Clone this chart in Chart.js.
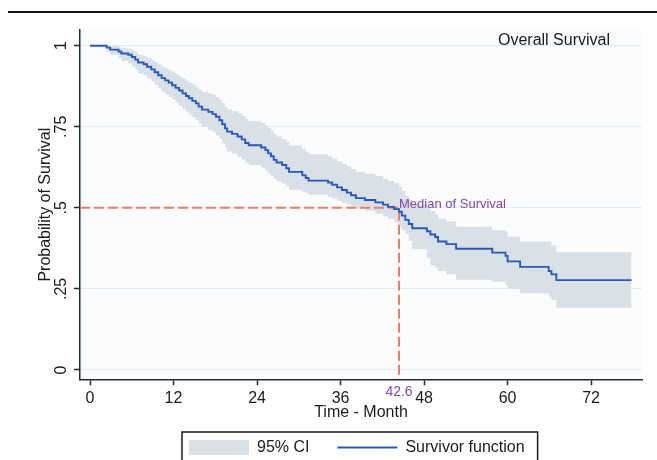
<!DOCTYPE html>
<html>
<head>
<meta charset="utf-8">
<script src="https://cdn.jsdelivr.net/npm/chart.js@4.4.1/dist/chart.umd.min.js"></script>
<style>
html,body{margin:0;padding:0;background:#fff;}
#wrap{position:relative;width:657px;height:460px;overflow:hidden;background:#fff;}
#rule{position:absolute;left:8px;top:11px;width:649px;height:2px;background:#151515;}
canvas{position:absolute;left:0;top:0;}
</style>
</head>
<body>
<div id="wrap"><canvas id="c" width="657" height="460"></canvas><div id="rule"></div></div>
<script>
// ---- data ----
const months = [0,2.4,2.9,4.1,4.5,5.5,6.0,6.5,6.9,7.7,8.2,8.8,9.3,9.8,10.3,10.8,11.3,11.8,12.3,12.8,13.3,13.8,14.2,14.7,15.2,15.6,16.1,17.0,17.6,18.1,18.6,19.0,19.4,19.7,20.4,21.2,21.8,22.3,22.8,24.6,25.2,25.6,26.0,26.4,26.8,27.6,28.2,28.6,30.5,31.0,31.4,34.2,34.8,35.5,36.2,36.9,37.5,38.2,39.5,41.0,42.1,42.8,43.7,44.4,44.8,45.3,45.8,46.3,48.4,48.9,49.6,50.0,51.2,52.6,57.8,59.7,60.0,61.8,65.9,66.3,67.0,77.8];
const survival = [1,.994,.988,.982,.976,.972,.965,.957,.948,.943,
  .935,.927,.918,.909,.900,.893,.886,.878,.870,.862,
  .853,.845,.838,.830,.822,.812,.803,.796,.789,.781,
  .770,.758,.745,.735,.728,.720,.711,.700,.693,.686,
  .678,.668,.659,.648,.640,.632,.622,.611,.600,.592,
  .584,.578,.571,.563,.555,.547,.539,.530,.524,.517,
  .510,.503,.496,.488,.476,.463,.450,.437,.428,.418,
  .410,.396,.388,.374,.362,.352,.335,.318,.305,.295,
  .277,.277];
const ciUpper = [1,1,1,.995,.992,.989,.985,.979,.972,.968,
  .962,.956,.949,.942,.935,.930,.924,.918,.911,.905,
  .898,.892,.886,.880,.873,.865,.858,.853,.848,.842,
  .833,.823,.812,.804,.799,.792,.784,.774,.768,.762,
  .755,.746,.738,.728,.720,.712,.703,.692,.681,.673,
  .665,.659,.652,.644,.636,.628,.620,.611,.605,.598,
  .590,.583,.576,.566,.553,.538,.524,.510,.500,.490,
  .481,.466,.458,.442,.431,.427,.411,.396,.396,.385,
  .363,.363];
const ciLower = [1,.982,.972,.962,.953,.946,.936,.926,.915,.909,
  .899,.890,.879,.869,.858,.850,.842,.833,.824,.815,
  .805,.796,.788,.779,.770,.759,.749,.741,.733,.724,
  .712,.699,.685,.674,.667,.658,.649,.640,.632,.624,
  .616,.607,.598,.589,.582,.575,.567,.556,.550,.545,
  .540,.534,.528,.522,.516,.510,.504,.497,.491,.482,
  .474,.466,.455,.443,.432,.420,.398,.372,.345,.322,
  .315,.305,.295,.278,.272,.262,.250,.237,.226,.216,
  .192,.192];
const xTickValues = [0,12,24,36,48,60,72];
const xTickLabels = ['0','12','24','36','48','60','72'];
const yTickValues = [0,0.25,0.5,0.75,1];
const yTickLabels = ['0','.25','.5','.75','1'];
const medianTime = 44.4;      // where the median marker sits in the picture
const medianLabel = '42.6';   // label printed on the axis
const medianSurvival = 0.5;
const medianText = 'Median of Survival';
const plotTitle = 'Overall Survival';
const ciLabel = '95% CI';
const survLabel = 'Survivor function';
const xTitle = 'Time - Month';
const yTitle = 'Probability of Survival';

// ---- styling ----
const FONT = "'Liberation Sans', Arial, sans-serif";
const DARK = '#1b1b1b';
const AXIS = '#1e2b33';
const PURPLE = '#8048a8';
const BLUE = '#2a58b4';
const BAND = '#d9e0e8';
const DASH = '#ec7f62';
const GRID = '#e3ecf3';
const xAxisMin = -1.437, xAxisMax = 79.31, yAxisMin = -0.0287, yAxisMax = 1.0484;
const legendShift = 17.8;

const toPts = ys => months.map((m, i) => ({x: m, y: ys[i]}));
const medianPath = [
  {x: xAxisMin, y: medianSurvival},
  {x: medianTime, y: medianSurvival},
  {x: medianTime, y: yAxisMin}
];
const isMedianTick = c => c && c.tick && Math.abs(c.tick.value - medianTime) < 1e-9;
const labelFor = (vals, labs, v) => {
  const i = vals.findIndex(t => Math.abs(t - v) < 1e-9);
  return i >= 0 ? labs[i] : '';
};

const bgPlugin = {
  id: 'bg',
  beforeDraw(chart) {
    const {ctx, chartArea: a} = chart;
    ctx.save();
    ctx.fillStyle = '#fbfcfe';
    ctx.fillRect(a.left, a.top, a.right - a.left, a.bottom - a.top);
    ctx.restore();
  }
};

const textPlugin = {
  id: 'texts',
  afterDatasetsDraw(chart) {
    const {ctx, chartArea, scales: {x, y}} = chart;
    ctx.save();
    ctx.font = '13px ' + FONT;
    ctx.fillStyle = PURPLE;
    ctx.textAlign = 'left';
    ctx.textBaseline = 'alphabetic';
    ctx.fillText(medianText, x.getPixelForValue(medianTime), y.getPixelForValue(medianSurvival));
    ctx.font = '16px ' + FONT;
    ctx.fillStyle = DARK;
    ctx.textAlign = 'right';
    ctx.textBaseline = 'middle';
    ctx.fillText(plotTitle, chartArea.right - 32, chartArea.top + 11);
    ctx.restore();
  }
};

const legendPlugin = {
  id: 'legendBox',
  afterLayout(chart) {
    const lg = chart.legend;
    lg.left += legendShift;
    lg.right += legendShift;
  },
  afterDraw(chart) {
    const lg = chart.legend, ctx = chart.ctx;
    const pad = lg.options.labels.padding;
    const lw = lg.lineWidths[0];
    const startX = (lg.left + pad + lg.right - lw) / 2;
    const cy = lg.top + pad + 8;
    ctx.save();
    ctx.strokeStyle = '#1a1a1a';
    ctx.lineWidth = 1.5;
    ctx.strokeRect(startX - 7, cy - 15.5, lw - pad + 20, 40);
    ctx.restore();
  }
};

new Chart(document.getElementById('c'), {
  type: 'line',
  data: {
    datasets: [
      {label: ciLabel, data: toPts(ciUpper), stepped: true, borderWidth: 0, borderColor: 'rgba(0,0,0,0)',
       backgroundColor: BAND, fill: '+1', pointRadius: 0, pointStyle: 'rect', order: 3},
      {label: 'lower', data: toPts(ciLower), stepped: true, borderWidth: 0, borderColor: 'rgba(0,0,0,0)',
       backgroundColor: BAND, fill: false, pointRadius: 0, order: 4},
      {label: 'median', data: medianPath, borderColor: DASH, borderWidth: 2, borderDash: [10, 4],
       fill: false, pointRadius: 0, order: 1},
      {label: survLabel, data: toPts(survival), stepped: true, borderColor: BLUE, backgroundColor: BLUE,
       borderWidth: 1.9, fill: false, pointRadius: 0, pointStyle: 'line', order: 0}
    ]
  },
  options: {
    responsive: false,
    animation: false,
    devicePixelRatio: 1,
    layout: {padding: {left: 36, right: 15, top: 30, bottom: -5.5}},
    scales: {
      x: {
        type: 'linear', min: xAxisMin, max: xAxisMax,
        afterBuildTicks: s => { s.ticks = [...xTickValues, medianTime].sort((a, b) => a - b).map(v => ({value: v})); },
        afterFit: s => { s.height = 32.2; },
        ticks: {
          autoSkip: false, minRotation: 0, maxRotation: 0, padding: 4,
          color: c => isMedianTick(c) ? PURPLE : DARK,
          font: c => isMedianTick(c) ? {family: FONT, size: 14, lineHeight: 0.45} : {family: FONT, size: 16},
          callback: v => Math.abs(v - medianTime) < 1e-9 ? medianLabel : labelFor(xTickValues, xTickLabels, v)
        },
        grid: {drawOnChartArea: false, drawTicks: true, tickLength: 6, tickWidth: 1.5,
               tickColor: c => isMedianTick(c) ? 'rgba(0,0,0,0)' : AXIS},
        border: {color: AXIS, width: 1.5},
        title: {display: true, text: xTitle, font: {family: FONT, size: 16}, color: DARK,
                padding: {top: 0, bottom: -11.1}}
      },
      y: {
        min: yAxisMin, max: yAxisMax,
        afterBuildTicks: s => { s.ticks = yTickValues.map(v => ({value: v})); },
        afterFit: s => { s.width = 44; },
        ticks: {
          minRotation: 90, maxRotation: 90, crossAlign: 'center', padding: 1,
          font: {family: FONT, size: 16}, color: DARK,
          callback: v => labelFor(yTickValues, yTickLabels, v)
        },
        grid: {color: GRID, lineWidth: 1, drawTicks: true, tickLength: 6, tickWidth: 1.5, tickColor: AXIS},
        border: {color: AXIS, width: 1.5},
        title: {display: true, text: yTitle, font: {family: FONT, size: 16}, color: DARK, padding: 0}
      }
    },
    plugins: {
      tooltip: {enabled: false},
      legend: {
        position: 'bottom',
        labels: {
          usePointStyle: true, pointStyleWidth: 60, boxHeight: 15, padding: 28,
          font: {family: FONT, size: 16}, color: DARK,
          filter: item => item.datasetIndex === 0 || item.datasetIndex === 3,
          sort: (a, b) => a.datasetIndex - b.datasetIndex
        }
      }
    }
  },
  plugins: [bgPlugin, textPlugin, legendPlugin]
});
</script>
</body>
</html>
